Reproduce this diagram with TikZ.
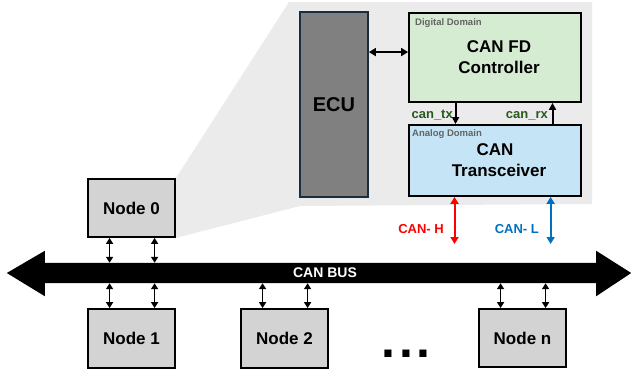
\documentclass[tikz,border=0pt]{standalone}
\usepackage{fontspec}
\setmainfont{Liberation Sans}
\usetikzlibrary{arrows.meta,calc,backgrounds}
\definecolor{panelgray}{RGB}{235,235,235}
\definecolor{nodegray}{RGB}{211,211,211}
\definecolor{ecugray}{RGB}{128,128,128}
\definecolor{ecuborder}{RGB}{25,45,60}
\definecolor{ctrlgreen}{RGB}{213,236,210}
\definecolor{trxblue}{RGB}{197,228,245}
\definecolor{sigcolor}{RGB}{40,90,30}
\definecolor{canlblue}{RGB}{0,112,192}
\definecolor{domaingray}{RGB}{100,100,100}
\tikzset{
  nodebox/.style={draw=black, fill=nodegray, line width=1.8pt, minimum width=87pt, minimum height=58pt, inner sep=0pt, font=\fontsize{17}{20}\selectfont\bfseries},
  blockbox/.style={draw=black, line width=1.8pt, inner sep=0pt, align=center, font=\fontsize{17}{21}\selectfont\bfseries},
  domainlabel/.style={anchor=west, inner sep=0pt, text=domaingray, font=\fontsize{9.5}{10}\selectfont\bfseries},
  buslink/.style={line width=1.8pt, {Triangle[length=6pt,width=7pt]}-{Triangle[length=6pt,width=7pt]}},
  biglink/.style={line width=2pt, {Triangle[length=7pt,width=8pt]}-{Triangle[length=7pt,width=8pt]}},
  siglink/.style={line width=2pt, -{Triangle[length=7pt,width=7pt]}},
  siglabel/.style={anchor=base east, inner sep=0pt, text=sigcolor, font=\fontsize{13}{14}\selectfont\bfseries},
  canlabel/.style={anchor=base east, inner sep=0pt, font=\fontsize{13}{14}\selectfont\bfseries}
}
\begin{document}
\begin{tikzpicture}[x=1pt,y=-1pt]
\useasboundingbox (0,0) rectangle (631,370);

% nodes on bus
\node[nodebox] (n0) at (131.5,208) {Node 0};
\node[nodebox, minimum height=59pt] (n1) at (131.5,338.5) {Node 1};
\node[nodebox, minimum height=59pt] (n2) at (284.5,338.5) {Node 2};
\node[nodebox] (nn) at (522.5,338) {Node n};

% zoom panel
\begin{scope}[on background layer]
\fill[panelgray] (n0.north east) -- (289,2) -- (592,2) -- (592,204) -- (300,206) -- (n0.south east) -- cycle;
\end{scope}

% blocks in panel
\node[blockbox, draw=ecuborder, fill=ecugray, minimum width=68pt, minimum height=185pt, font=\fontsize{20}{22}\selectfont\bfseries] (ecu) at (334,104.5) {ECU};
\node[blockbox, fill=ctrlgreen, minimum width=172pt, minimum height=89pt] (ctrl) at (495,57.5) {\hspace{8pt}CAN FD\\\hspace{8pt}Controller};
\node[blockbox, fill=trxblue, minimum width=172pt, minimum height=71pt] (trx) at (495,160.5) {CAN\\\hspace{8pt}Transceiver};
\node[domainlabel] (dlab) at (415,23) {Digital Domain};
\node[domainlabel] (alab) at (412,134.5) {Analog Domain};

% ECU <-> controller
\coordinate (ectl) at ($(ctrl.north west)!0.44!(ctrl.south west)$);
\draw[biglink] (ectl -| ecu.east) -- (ectl);

% can_tx / can_rx
\coordinate (txc) at ($(ctrl.south west)!0.273!(ctrl.south east)$);
\coordinate (rxc) at ($(ctrl.south west)!0.831!(ctrl.south east)$);
\draw[siglink] (txc) -- (txc |- trx.north);
\draw[siglink] (rxc |- trx.north) -- (rxc);
\node[siglabel] (txl) at (453,118) {can\_tx};
\node[siglabel] (rxl) at (548,118) {can\_rx};

% CAN-H / CAN-L
\coordinate (hc) at ($(trx.south west)!0.267!(trx.south east)$);
\coordinate (lc) at ($(trx.south west)!0.82!(trx.south east)$);
\coordinate (hend) at (hc |- 0,244);
\coordinate (lend) at (lc |- 0,244);
\draw[biglink, red] (hc) -- (hend);
\draw[biglink, canlblue] (lc) -- (lend);
\node[canlabel, text=red] (hl) at (444,233) {CAN- H};
\node[canlabel, text=canlblue] (ll) at (539,233) {CAN- L};

% bus
\node[minimum width=551pt, minimum height=20pt, inner sep=0pt] (bus) at (320.5,273) {};
\fill[black] (bus.north west) -- (bus.north east) -- ++(0,-12) -- ($(bus.east)+(35,0)$) -- ($(bus.south east)+(0,13)$) -- (bus.south east) -- (bus.south west) -- ++(0,13) -- ($(bus.west)+(-38,0)$) -- ($(bus.north west)+(0,-12)$) -- cycle;
\node[anchor=base, inner sep=0pt, text=white, font=\fontsize{14}{15}\selectfont\bfseries] (buslabel) at (325,277) {CAN BUS};

% node <-> bus links
\foreach \n/\side/\bside in {n0/south/north, n1/north/south, n2/north/south, nn/north/south}{
  \coordinate (\n a) at ($(\n.\side\space west)!0.253!(\n.\side\space east)$);
  \coordinate (\n b) at ($(\n.\side\space west)!0.76!(\n.\side\space east)$);
  \draw[buslink] (\n a) -- (\n a |- bus.\bside);
  \draw[buslink] (\n b) -- (\n b |- bus.\bside);
}

% dots
\node[anchor=base west, inner sep=0pt, font=\fontsize{50}{50}\selectfont\bfseries] (dots) at (381.5,357) {.\kern3.6pt.\kern3.6pt.};
\end{tikzpicture}
\end{document}
